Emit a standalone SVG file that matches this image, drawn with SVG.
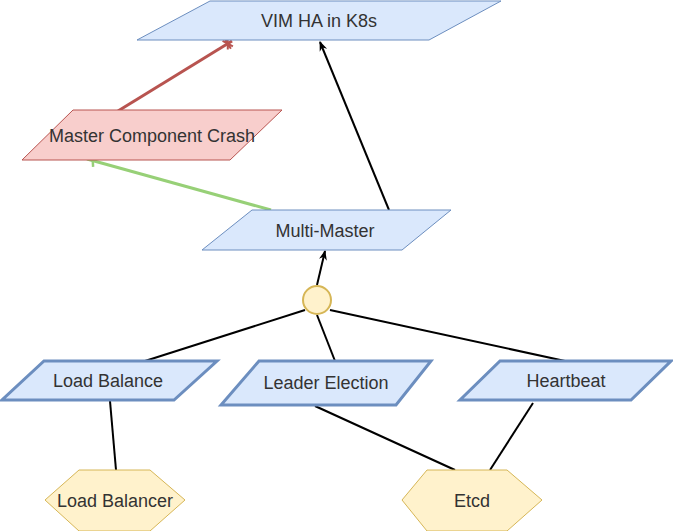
<svg xmlns="http://www.w3.org/2000/svg" width="673" height="531" viewBox="0 0 673 531">
<style>
.blue{fill:#dae8fc;stroke:#6c8ebf;stroke-width:1}
.blueb{fill:#dae8fc;stroke:#6c8ebf;stroke-width:3}
.red{fill:#f8cecc;stroke:#b85450;stroke-width:1}
.yel{fill:#fff2cc;stroke:#d6b656;stroke-width:1}
.yelc{fill:#fff2cc;stroke:#d6b656;stroke-width:2}
text{font-family:"Liberation Sans",Arial,sans-serif;font-size:18px;fill:#333;text-anchor:middle;dominant-baseline:central}
.c{fill:none;stroke:#000;stroke-width:2}
</style>
<defs>
<marker id="arr" viewBox="0 0 10 10" refX="9" refY="5" markerWidth="10" markerHeight="10" markerUnits="userSpaceOnUse" orient="auto">
<path d="M0,1 L10,5 L0,9 L3,5 Z" fill="#000"/>
</marker>
<marker id="cross" viewBox="0 0 14 14" refX="13" refY="7" markerWidth="14" markerHeight="14" markerUnits="userSpaceOnUse" orient="auto">
<path d="M5,2 L11,12 M11,2 L5,12 M8,1 L8,13" stroke="#b85450" stroke-width="2" fill="none"/>
</marker>
<marker id="tick" viewBox="0 0 14 14" refX="14" refY="7" markerWidth="14" markerHeight="14" markerUnits="userSpaceOnUse" orient="auto">
<path d="M6,1 L10,13" stroke="#97d077" stroke-width="2.5" fill="none"/>
</marker>
</defs>
<g id="connectors">
<line x1="118" y1="111" x2="232" y2="41" stroke="#b85450" stroke-width="3" marker-end="url(#cross)"/>
<line x1="389" y1="210" x2="320" y2="42" class="c" marker-end="url(#arr)"/>
<line x1="271" y1="210" x2="87" y2="159" stroke="#97d077" stroke-width="3" marker-end="url(#tick)"/>
<line x1="317" y1="285" x2="325" y2="251" class="c" marker-end="url(#arr)"/>
<line x1="305" y1="310" x2="145" y2="361" class="c"/>
<line x1="317" y1="315" x2="335" y2="361" class="c"/>
<line x1="330" y1="310" x2="565" y2="361" class="c"/>
<line x1="110" y1="401" x2="116" y2="470" class="c"/>
<line x1="315" y1="406" x2="455" y2="470" class="c"/>
<line x1="533" y1="403" x2="490" y2="470" class="c"/>
</g>
<g id="vim">
<polygon class="blue" points="210,1 501,1 429,40 137,40"/>
<text x="319" y="21">VIM HA in K8s</text>
</g>
<g id="crash">
<polygon class="red" points="73,110 282,110 230,160 22,160"/>
<text x="152" y="136">Master Component Crash</text>
</g>
<g id="multimaster">
<polygon class="blue" points="252,210 451,210 402,250 202,250"/>
<text x="325" y="231">Multi-Master</text>
</g>
<g id="and">
<circle class="yelc" cx="317" cy="300" r="14"/>
</g>
<g id="loadbalance">
<polygon class="blueb" points="44,361 217,361 174,400 2,400"/>
<text x="108" y="381">Load Balance</text>
</g>
<g id="leader">
<polygon class="blueb" points="259,361 431,361 396,405 221,405"/>
<text x="326" y="383">Leader Election</text>
</g>
<g id="heartbeat">
<polygon class="blueb" points="500,361 671,361 631,400 460,400"/>
<text x="566" y="381">Heartbeat</text>
</g>
<g id="loadbalancer">
<polygon class="yel" points="45,500 79,470 150,470 185,500 150,531 79,531"/>
<text x="115" y="501">Load Balancer</text>
</g>
<g id="etcd">
<polygon class="yel" points="402,500 427,470 507,470 542,500 507,531 427,531"/>
<text x="472" y="501">Etcd</text>
</g>
</svg>
